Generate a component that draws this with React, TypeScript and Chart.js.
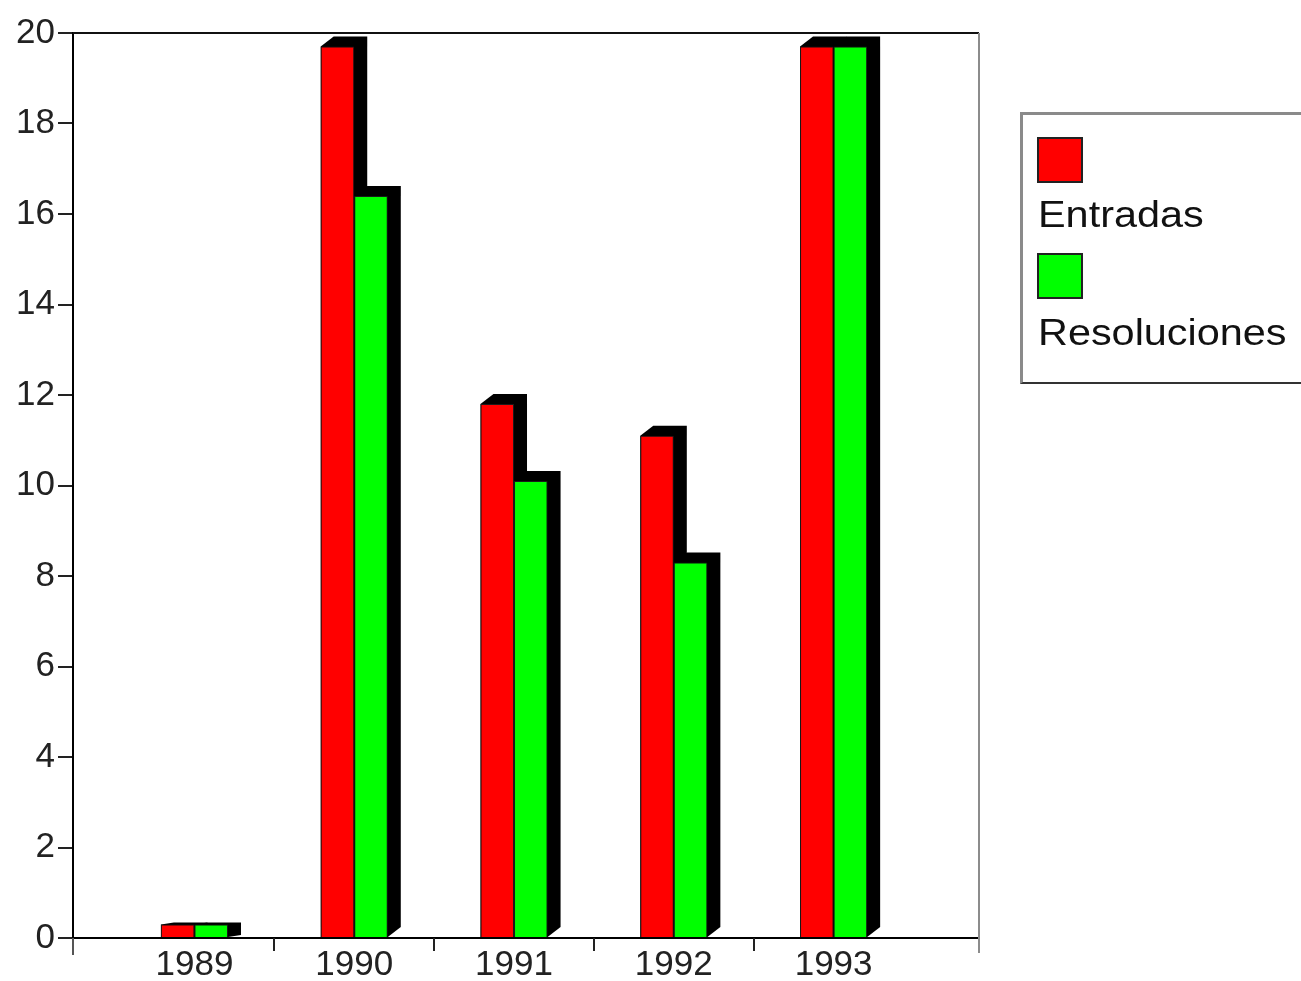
import { useEffect, useRef } from "react";
import { Chart, registerables } from "chart.js";

Chart.register(...registerables);

// Chart data
const YEARS = [1989, 1990, 1991, 1992, 1993];
const ENTRADAS = [0.3, 19.7, 11.8, 11.1, 19.7];
const RESOLUCIONES = [0.3, 16.4, 10.1, 8.3, 19.7];
const SERIES_NAMES = ["Entradas", "Resoluciones"];
const SERIES_COLORS = ["#ff0000", "#00ff00"];
const Y_MIN = 0;
const Y_MAX = 20;
const Y_STEP = 2;

const FONT = '"Liberation Sans", Arial, Helvetica, sans-serif';

// Extrusion of each bar: black block pushed back to the right and up
const DEPTH_X = 13;
const DEPTH_Y = 10;

const barDepthPlugin = {
  id: "barDepth",
  beforeDatasetsDraw(chart: any) {
    const ctx = chart.ctx;
    ctx.save();
    ctx.fillStyle = "#000";
    chart.data.datasets.forEach((_: any, di: number) => {
      const meta = chart.getDatasetMeta(di);
      meta.data.forEach((bar: any) => {
        const { x, y, base, width } = bar.getProps(["x", "y", "base", "width"], true);
        const x0 = x - width / 2;
        const x1 = x + width / 2;
        const dy = Math.min(DEPTH_Y, (base - y) * 0.15);
        ctx.beginPath();
        ctx.moveTo(x0, y);
        ctx.lineTo(x0 + DEPTH_X, y - dy);
        ctx.lineTo(x1 + DEPTH_X, y - dy);
        ctx.lineTo(x1 + DEPTH_X, base - dy);
        ctx.lineTo(x1, base);
        ctx.lineTo(x0, base);
        ctx.closePath();
        ctx.fill();
      });
    });
    ctx.restore();
  },
};

// Plot frame and the tick marks separating the year groups
const framePlugin = {
  id: "plotFrame",
  afterDraw(chart: any) {
    const { ctx, chartArea, scales } = chart;
    const { left, right, top, bottom } = chartArea;
    const line = (ax: number, ay: number, bx: number, by: number) => {
      ctx.beginPath();
      ctx.moveTo(ax, ay);
      ctx.lineTo(bx, by);
      ctx.stroke();
    };
    ctx.save();
    ctx.lineWidth = 2;
    ctx.strokeStyle = "#111";
    line(left, top, right, top);
    ctx.strokeStyle = "#8c8c8c";
    line(right, top, right, bottom + 15);
    ctx.strokeStyle = "#555";
    line(left, bottom, left, bottom + 17);
    ctx.strokeStyle = "#222";
    YEARS.slice(1).forEach((year) => {
      const px = Math.round(scales.x.getPixelForValue(year - 0.5));
      line(px, bottom, px, bottom + 13);
    });
    ctx.restore();
  },
};

function BarChart() {
  const canvasRef = useRef<HTMLCanvasElement | null>(null);

  useEffect(() => {
    const canvas = canvasRef.current;
    if (!canvas) return;
    Chart.defaults.font.family = FONT;

    const chart = new Chart(canvas, {
      type: "bar",
      data: {
        labels: YEARS,
        datasets: [
          {
            label: SERIES_NAMES[0],
            data: ENTRADAS,
            backgroundColor: SERIES_COLORS[0],
            borderColor: "#1a1a1a",
            borderWidth: 1,
          },
          {
            label: SERIES_NAMES[1],
            data: RESOLUCIONES,
            backgroundColor: SERIES_COLORS[1],
            borderColor: "#1a1a1a",
            borderWidth: 1,
          },
        ],
      },
      options: {
        animation: false,
        responsive: false,
        maintainAspectRatio: false,
        events: [],
        layout: { padding: { top: 33, right: 322, left: 0, bottom: 0 } },
        datasets: { bar: { categoryPercentage: 0.42, barPercentage: 1 } },
        plugins: {
          legend: { display: false },
          tooltip: { enabled: false },
        },
        scales: {
          x: {
            type: "linear",
            min: 1988.24,
            max: 1993.91,
            offset: false,
            afterBuildTicks: (scale: any) => {
              scale.ticks = YEARS.map((v) => ({ value: v }));
            },
            afterFit: (scale: any) => {
              scale.height = 43;
            },
            grid: { display: false, drawTicks: false },
            border: { display: true, color: "#000", width: 2 },
            ticks: {
              callback: (v: any) => String(v),
              color: "#222",
              font: { size: 35, family: FONT },
              padding: 6,
              maxRotation: 0,
              autoSkip: false,
            },
          },
          y: {
            type: "linear",
            min: Y_MIN,
            max: Y_MAX,
            afterFit: (scale: any) => {
              scale.width = 73;
            },
            grid: {
              drawOnChartArea: false,
              drawTicks: true,
              tickLength: 15,
              color: "#222",
              lineWidth: 2,
            },
            border: { display: true, color: "#000", width: 2 },
            ticks: {
              stepSize: Y_STEP,
              color: "#222",
              font: { size: 35, family: FONT },
              padding: 3,
            },
          },
        },
      },
      plugins: [barDepthPlugin, framePlugin],
    } as any);

    return () => chart.destroy();
  }, []);

  return (
    <canvas
      ref={canvasRef}
      width={1301}
      height={981}
      style={{ position: "absolute", left: 0, top: 0, width: 1301, height: 981 }}
    />
  );
}

const legendText: any = {
  position: "absolute",
  left: 1038,
  fontFamily: FONT,
  fontSize: 36,
  lineHeight: "36px",
  color: "#111",
  whiteSpace: "nowrap",
  transform: "scaleX(1.15)",
  transformOrigin: "0 0",
};

const swatch = (color: string, top: number): any => ({
  position: "absolute",
  left: 1037,
  top,
  width: 46,
  height: 46,
  boxSizing: "border-box",
  border: "2px solid #222",
  background: color,
});

export default function App() {
  return (
    <div
      style={{
        position: "absolute",
        left: 0,
        top: 0,
        width: 1301,
        height: 981,
        overflow: "hidden",
        background: "#fff",
      }}
    >
      <BarChart />
      <div
        style={{
          position: "absolute",
          left: 1020,
          top: 112,
          width: 320,
          height: 272,
          boxSizing: "border-box",
          borderTop: "3px solid #8a8a8a",
          borderLeft: "3px solid #8a8a8a",
          borderBottom: "2px solid #333",
        }}
      />
      <div style={swatch(SERIES_COLORS[0], 137)} />
      <div style={{ ...legendText, top: 197 }}>{SERIES_NAMES[0]}</div>
      <div style={swatch(SERIES_COLORS[1], 253)} />
      <div style={{ ...legendText, top: 315 }}>{SERIES_NAMES[1]}</div>
    </div>
  );
}
